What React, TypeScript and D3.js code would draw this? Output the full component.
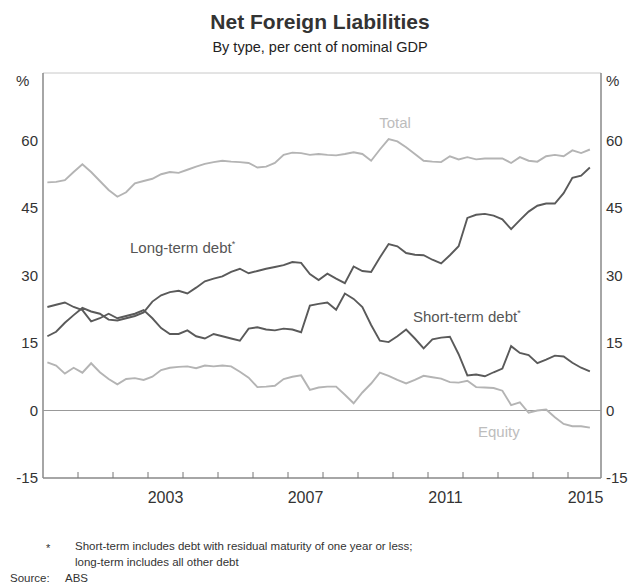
import React from "react";
import * as d3 from "d3";

const startYear = 2000;
const total = [50.7, 50.8, 51.2, 53, 54.7, 53, 51, 49, 47.5, 48.5, 50.5, 51, 51.5, 52.5, 53, 52.8,
  53.5, 54.2, 54.8, 55.2, 55.5, 55.3, 55.2, 55, 54, 54.2, 55, 56.8, 57.3, 57.2, 56.8, 57,
  56.8, 56.7, 57, 57.4, 57, 55.5, 58, 60.3, 59.8, 58.5, 57, 55.5, 55.3, 55.2, 56.5, 55.8,
  56.3, 55.8, 56, 56, 56, 55, 56.3, 55.5, 55.3, 56.5, 56.8, 56.5, 57.8, 57.2, 58];
const longTerm = [16.5, 17.5, 19.5, 21.2, 22.8, 22, 21.5, 20.2, 20, 20.5, 21, 21.8, 24.2, 25.6, 26.3, 26.6,
  26, 27.3, 28.7, 29.3, 29.8, 30.8, 31.5, 30.5, 31, 31.5, 31.9, 32.3, 33, 32.8, 30.3, 29,
  30.4, 29.3, 28.3, 32, 31, 30.8, 34, 37, 36.5, 35, 34.6, 34.5, 33.5, 32.7, 34.5, 36.5,
  42.8, 43.5, 43.7, 43.3, 42.5, 40.3, 42.3, 44.2, 45.5, 46, 46, 48.3, 51.7, 52.2, 54];
const shortTerm = [23, 23.5, 24, 23, 22.3, 19.8, 20.5, 21.5, 20.5, 21, 21.5, 22.3, 20.5, 18.3, 17, 17,
  17.8, 16.5, 16, 17, 16.5, 16, 15.5, 18.2, 18.5, 18, 17.8, 18.2, 18, 17.4, 23.3, 23.7,
  24, 22.4, 26, 24.8, 23, 19, 15.5, 15.2, 16.5, 18, 16, 13.8, 15.8, 16.2, 16.4, 12.5,
  7.8, 8, 7.6, 8.5, 9.3, 14.3, 12.8, 12.3, 10.5, 11.3, 12.2, 12, 10.6, 9.5, 8.7];
const equity = [10.7, 10, 8.2, 9.5, 8.4, 10.5, 8.5, 7, 5.8, 7, 7.2, 6.8, 7.5, 9, 9.5, 9.7,
  9.8, 9.4, 10, 9.8, 10, 9.8, 8.6, 7.3, 5.2, 5.3, 5.5, 7, 7.5, 7.8, 4.6, 5.1,
  5.3, 5.3, 3.5, 1.6, 4, 6, 8.4, 7.7, 6.8, 6, 6.8, 7.7, 7.4, 7.1, 6.3, 6.2,
  6.6, 5.2, 5.1, 5, 4.4, 1.2, 1.8, -0.5, 0, 0.2, -1.5, -3, -3.5, -3.5, -3.8];
const yTicks = [-15, 0, 15, 30, 45, 60];
const xLabelYears = [2003, 2007, 2011, 2015];
const tickYears = d3.range(2001, 2016);

const W = 639, H = 584;
const left = 43, right = 601, top = 73, bottom = 478;
const font = "Liberation Sans, Arial, sans-serif";
const dark = "#5a5a5a";
const light = "#b4b4b4";

export default function App() {
  const x = d3.scaleLinear().domain([2000, 2016]).range([left, right + 2]);
  const y = d3.scaleLinear().domain([-15, 75]).range([bottom, top]);
  const tOf = (i: number) => startYear + (i + 0.5) / 4;
  const line = d3.line<number>().x((_, i) => x(tOf(i))).y(d => y(d));

  return (
    <svg width={W} height={H} style={{ position: "absolute", left: 0, top: 0, background: "#fff" }}
      fontFamily={font}>
      <rect x={0} y={0} width={W} height={H} fill="#fff" />
      <text x={320} y={29} textAnchor="middle" fontSize={21} fontWeight="bold" fill="#333">Net Foreign Liabilities</text>
      <text x={320} y={52} textAnchor="middle" fontSize={14.5} fill="#222">By type, per cent of nominal GDP</text>

      {/* frame */}
      <line x1={left} x2={right} y1={top} y2={top} stroke="#c8c8c8" strokeWidth={1} />
      <line x1={left} x2={left} y1={top} y2={bottom} stroke="#888" strokeWidth={1.5} />
      <line x1={right} x2={right} y1={top} y2={bottom} stroke="#888" strokeWidth={1.5} />
      <line x1={left} x2={right} y1={bottom} y2={bottom} stroke="#888" strokeWidth={1.5} />
      <line x1={left} x2={right} y1={y(0)} y2={y(0)} stroke="#999" strokeWidth={1.2} />

      {tickYears.map(t => (
        <line key={t} x1={x(t)} x2={x(t)} y1={bottom} y2={bottom - 6} stroke="#777" strokeWidth={1} />
      ))}

      {yTicks.map(v => (
        <g key={v} fontSize={15} fill="#333">
          <text x={38} y={y(v) + 5} textAnchor="end">{v}</text>
          <text x={606} y={y(v) + 5} textAnchor="start">{v}</text>
        </g>
      ))}
      <text x={16} y={86} fontSize={15} fill="#333">%</text>
      <text x={606} y={86} fontSize={15} fill="#333">%</text>

      {xLabelYears.map(t => (
        <text key={t} x={x(t + 0.5)} y={503} textAnchor="middle" fontSize={16} fill="#333">{t}</text>
      ))}

      <path d={line(total) || ""} fill="none" stroke={light} strokeWidth={1.9} />
      <path d={line(equity) || ""} fill="none" stroke={light} strokeWidth={1.9} />
      <path d={line(longTerm) || ""} fill="none" stroke={dark} strokeWidth={1.9} />
      <path d={line(shortTerm) || ""} fill="none" stroke={dark} strokeWidth={1.9} />

      <text x={395} y={128} textAnchor="middle" fontSize={15} fill="#bdbdbd">Total</text>
      <text x={130} y={253} fontSize={15} fill="#555">Long-term debt<tspan fontSize={9} dy={-6}>*</tspan></text>
      <text x={413} y={322} fontSize={15} fill="#555">Short-term debt<tspan fontSize={9} dy={-6}>*</tspan></text>
      <text x={478} y={437} fontSize={15} fill="#bdbdbd">Equity</text>

      <text x={46} y={552} fontSize={11} fill="#333">*</text>
      <text x={75} y={550} fontSize={11.5} fill="#333">Short-term includes debt with residual maturity of one year or less;</text>
      <text x={75} y={566} fontSize={11.5} fill="#333">long-term includes all other debt</text>
      <text x={10} y={582} fontSize={11.5} fill="#333">Source:</text>
      <text x={65} y={582} fontSize={11.5} fill="#333">ABS</text>
    </svg>
  );
}
